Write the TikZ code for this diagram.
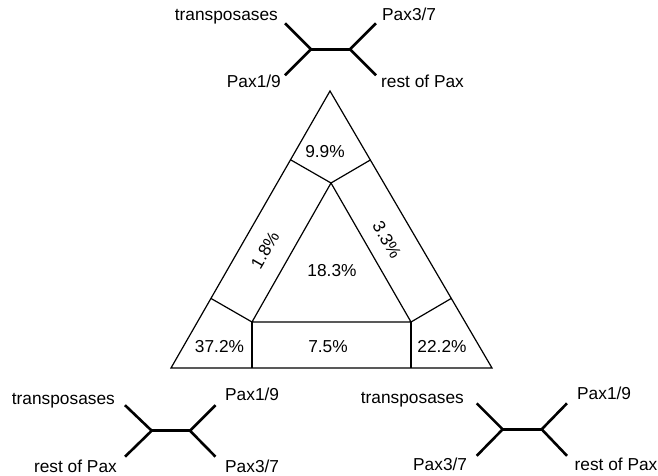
\documentclass[tikz,border=0pt]{standalone}
\usepackage{fontspec}
\setmainfont{Liberation Sans}
\usetikzlibrary{calc}
\begin{document}
\begin{tikzpicture}[x=1pt,y=-1pt,
  edge/.style={line width=1.2pt,line join=miter},
  branch/.style={line width=2.6pt},
  lab/.style={font=\fontsize{17.3}{20}\selectfont,inner sep=0pt},
  pct/.style={font=\fontsize{17.3}{20}\selectfont,inner sep=0pt}]
\useasboundingbox (0,0) rectangle (658,476);

% outer triangle
\coordinate (A) at (330,91);
\coordinate (B) at (171,368);
\coordinate (C) at (492,368);
% inner triangle
\coordinate (a) at (331,183);
\coordinate (b) at (252,322);
\coordinate (c) at (411,322);

\draw[edge] (A) -- (B) -- (C) -- cycle;
\draw[edge] (a) -- (b) -- (c) -- cycle;
% perpendiculars from the inner corners to the outer sides
\draw[edge] (a) -- ($(A)!(a)!(B)$);
\draw[edge] (a) -- ($(A)!(a)!(C)$);
\draw[edge] (b) -- ($(A)!(b)!(B)$);
\draw[edge] (b) -- ($(B)!(b)!(C)$);
\draw[edge] (c) -- ($(A)!(c)!(C)$);
\draw[edge] (c) -- ($(B)!(c)!(C)$);

% region percentages
\node[pct] (p99) at (325,151.5) {9.9\%};
\node[pct,rotate=60] (p18) at (265,250) {1.8\%};
\node[pct,rotate=-60] (p33) at (387,240) {3.3\%};
\node[pct] (p183) at (332,271) {18.3\%};
\node[pct] (p372) at (219.5,347) {37.2\%};
\node[pct] (p75) at (328,347) {7.5\%};
\node[pct] (p222) at (442,347) {22.2\%};

% top tree
\coordinate (tL) at (311,49.3);
\coordinate (tR) at (350,49.3);
\coordinate (tLu) at (285,23.3);
\coordinate (tLd) at (285,75.3);
\coordinate (tRu) at (376,23.3);
\coordinate (tRd) at (376,75.3);
\draw[branch] (tLu) -- (tL) -- (tLd);
\draw[branch] (tL) -- (tR);
\draw[branch] (tRu) -- (tR) -- (tRd);
\node[lab,anchor=base east] (tT) at (278,20.5) {transposases};
\node[lab,anchor=base west] (tP37) at (382,20.5) {Pax3/7};
\node[lab,anchor=base east] (tP19) at (281,88) {Pax1/9};
\node[lab,anchor=base west] (tRest) at (381,88) {rest of Pax};

% bottom-left tree
\coordinate (lL) at (151.7,430.7);
\coordinate (lR) at (190,430.7);
\coordinate (lLu) at (125,405.2);
\coordinate (lLd) at (125,456.7);
\coordinate (lRu) at (215.5,405.2);
\coordinate (lRd) at (215.5,456.7);
\draw[branch] (lLu) -- (lL) -- (lLd);
\draw[branch] (lL) -- (lR);
\draw[branch] (lRu) -- (lR) -- (lRd);
\node[lab,anchor=base east] (lT) at (115,404) {transposases};
\node[lab,anchor=base east] (lRest) at (117,472) {rest of Pax};
\node[lab,anchor=base west] (lP19) at (225,400) {Pax1/9};
\node[lab,anchor=base west] (lP37) at (225,472) {Pax3/7};

% bottom-right tree
\coordinate (rL) at (502.7,429.3);
\coordinate (rR) at (541.7,429.3);
\coordinate (rLu) at (476.7,403.3);
\coordinate (rLd) at (476.7,455.8);
\coordinate (rRu) at (567,403.3);
\coordinate (rRd) at (567,455.8);
\draw[branch] (rLu) -- (rL) -- (rLd);
\draw[branch] (rL) -- (rR);
\draw[branch] (rRu) -- (rR) -- (rRd);
\node[lab,anchor=base east] (rT) at (464,403) {transposases};
\node[lab,anchor=base west] (rP19) at (577,399) {Pax1/9};
\node[lab,anchor=base west] (rP37) at (413,470) {Pax3/7};
\node[lab,anchor=base west] (rRest) at (574.5,470) {rest of Pax};
\end{tikzpicture}
\end{document}
